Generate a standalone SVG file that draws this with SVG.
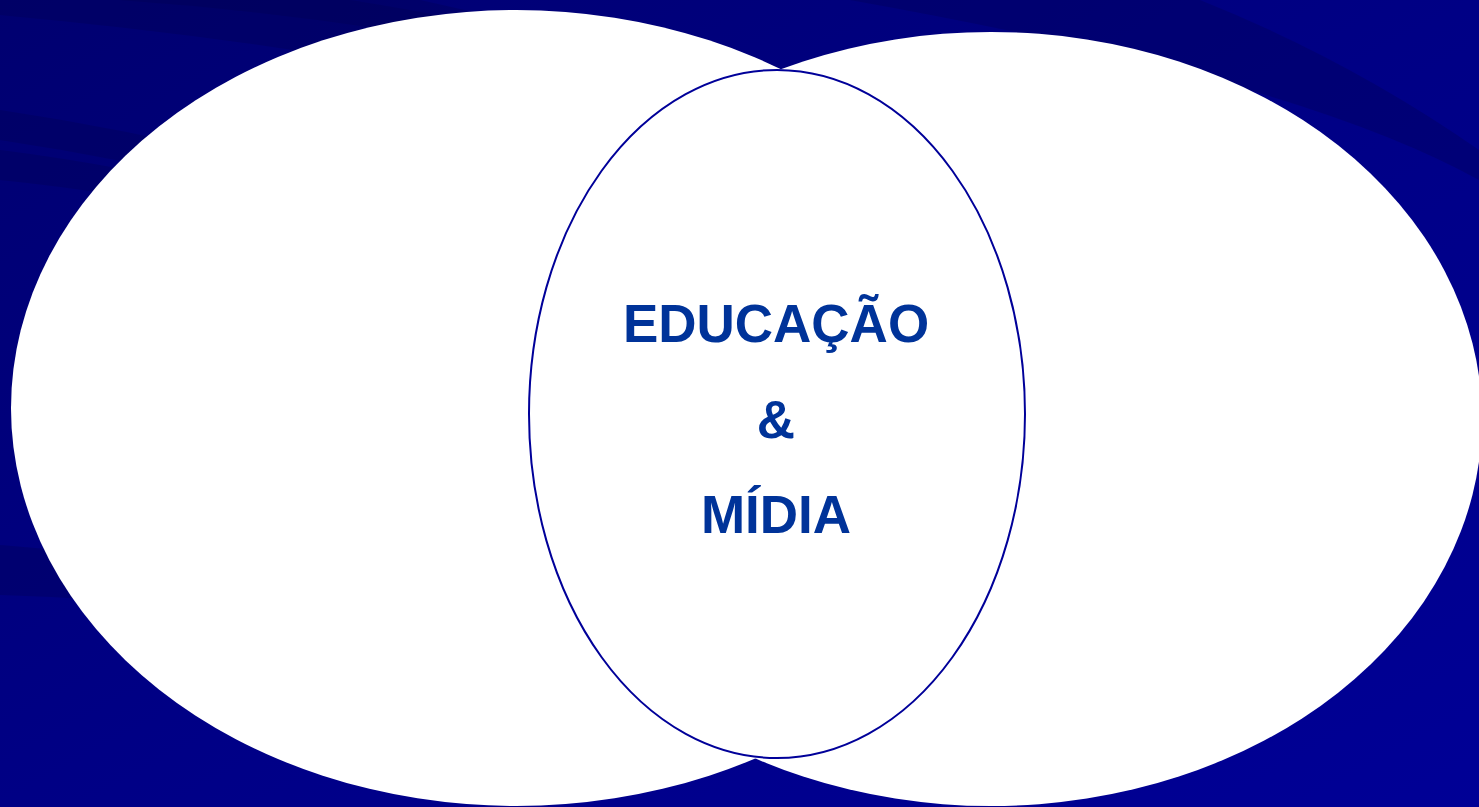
<svg xmlns="http://www.w3.org/2000/svg" width="1479" height="807" viewBox="0 0 1479 807">
  <defs>
    <linearGradient id="bg" x1="0" y1="0" x2="1" y2="1">
      <stop offset="0" stop-color="#000070"/>
      <stop offset="0.5" stop-color="#000085"/>
      <stop offset="1" stop-color="#000096"/>
    </linearGradient>
  </defs>
  <style>
    .big { fill: #ffffff; stroke: none; }
    .mid { fill: #ffffff; stroke: #000099; stroke-width: 2; }
    .lbl { font-family: "Liberation Sans", Arial, sans-serif; font-weight: bold; font-size: 53px; fill: #003399; text-anchor: middle; }
    .streak { fill: #000050; opacity: 0.3; }
  </style>
  <rect width="1479" height="807" fill="url(#bg)"/>
  <g id="background-streaks">
    <path class="streak" d="M0,0 L420,0 Q700,60 1000,200 L1000,230 Q600,70 0,15 Z"/>
    <path class="streak" d="M120,0 L350,0 Q600,40 700,90 Q400,20 120,0 Z"/>
    <path class="streak" d="M0,110 Q200,140 400,200 L400,230 Q200,170 0,140 Z"/>
    <path class="streak" d="M0,150 Q200,175 400,240 L400,260 Q200,200 0,180 Z"/>
    <path class="streak" d="M0,545 Q200,560 400,600 L400,640 Q200,600 0,595 Z"/>
    <path class="streak" d="M850,0 L1200,0 Q1350,60 1479,150 L1479,180 Q1300,80 850,0 Z"/>
  </g>
  <g id="left-ellipse">
    <ellipse class="big" cx="516" cy="408" rx="505" ry="398"/>
  </g>
  <g id="right-ellipse">
    <ellipse class="big" cx="991" cy="419" rx="491" ry="387"/>
  </g>
  <g id="center-ellipse">
    <ellipse class="mid" cx="777" cy="414" rx="248" ry="344"/>
    <text class="lbl" x="776" y="342">EDUCAÇÃO</text>
    <text class="lbl" x="776" y="438">&amp;</text>
    <text class="lbl" x="776" y="533">MÍDIA</text>
  </g>
  <g id="connectors"></g>
</svg>
